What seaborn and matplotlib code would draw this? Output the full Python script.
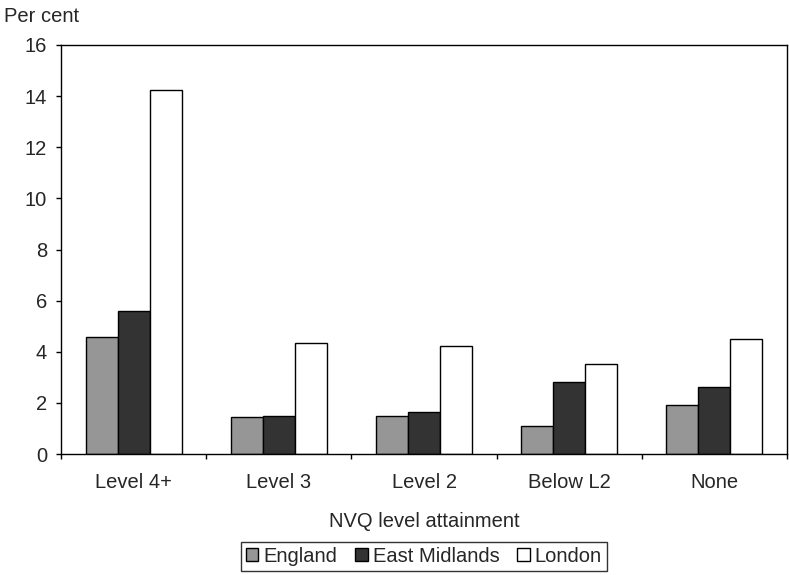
import matplotlib
matplotlib.use("Agg")
import matplotlib.pyplot as plt
import seaborn as sns
import pandas as pd
import numpy as np
from matplotlib.ticker import FixedLocator

categories = ["Level 4+", "Level 3", "Level 2", "Below L2", "None"]
series = ["England", "East Midlands", "London"]
england = [4.58, 1.43, 1.47, 1.10, 1.92]
east_midlands = [5.60, 1.47, 1.63, 2.83, 2.61]
london = [14.24, 4.33, 4.22, 3.53, 4.50]
colors = ["#969696", "#333333", "#ffffff"]

rows = []
for s, vals in zip(series, [england, east_midlands, london]):
    for c, v in zip(categories, vals):
        rows.append({"cat": c, "series": s, "value": v})
df = pd.DataFrame(rows)

sns.set_theme(style="white")
plt.rcParams['font.family'] = ['Liberation Sans', 'DejaVu Sans']
FS = 14.5

fig = plt.figure(figsize=(7.89, 5.75), dpi=100)
ax = fig.add_axes([61/789, 1-454/575, (787-61)/789, (454-45)/575])

sns.barplot(data=df, x="cat", y="value", hue="series", order=categories,
            hue_order=series, palette=colors, width=0.66, gap=0,
            edgecolor="black", linewidth=1.0, saturation=1, ax=ax, legend=True)

ax.set_ylim(0, 16)
ax.set_xlim(-0.5, 4.5)
ax.set_yticks(np.arange(0, 17, 2))
ax.tick_params(axis='y', labelsize=FS, length=3.6, width=1, color="black", direction="out", left=True, pad=6.5)
ax.tick_params(axis='x', which='major', length=0, labelsize=FS, pad=14)
ax.xaxis.set_minor_locator(FixedLocator(np.arange(-0.5, 5.0, 1.0)))
ax.tick_params(axis='x', which='minor', length=3.6, width=1, color="black", direction="out", bottom=True)
for sp in ax.spines.values():
    sp.set_visible(True)
    sp.set_color("black")
    sp.set_linewidth(1.0)
ax.set_ylabel("")
ax.set_xlabel("NVQ level attainment", fontsize=FS, labelpad=14)
fig.text(4/789, 1-22/575, "Per cent", fontsize=FS, ha="left", va="baseline")

leg = ax.legend(loc="upper center", bbox_to_anchor=(0.5, -0.19), ncol=3, frameon=True,
                fontsize=FS, handlelength=0.6, handleheight=0.6, handletextpad=0.25,
                columnspacing=0.9, borderpad=0.25, fancybox=False, edgecolor="black")
leg.get_frame().set_linewidth(1.0)

fig.savefig("out.png", dpi=100, facecolor="white")
